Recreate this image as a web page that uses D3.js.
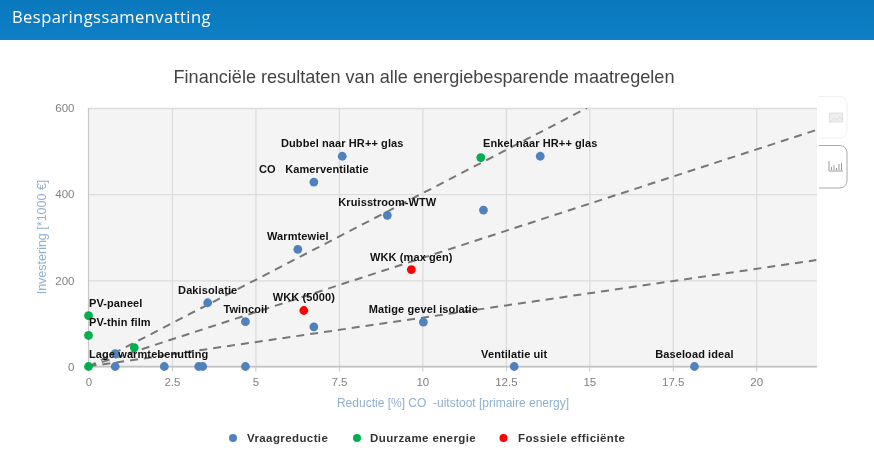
<!DOCTYPE html>
<html><head><meta charset="utf-8">
<script src="https://cdn.jsdelivr.net/npm/d3@7/dist/d3.min.js"></script>
<style>
html,body{margin:0;padding:0;background:#fff;width:874px;height:468px;overflow:hidden}
svg{display:block;filter:blur(.3px)}
text{white-space:pre}
</style></head><body>
<svg id="c" width="874" height="468"></svg>
<script>
const headerTitle = "Besparingssamenvatting";
const chartTitle = "Financiële resultaten van alle energiebesparende maatregelen";
const xAxisTitle = "Reductie [%] CO  -uitstoot [primaire energy]";
const yAxisTitle = "Investering [*1000 €]";
const xTicks = [0, 2.5, 5, 7.5, 10, 12.5, 15, 17.5, 20];
const yTicks = [0, 200, 400, 600];

const seriesNames = ["Vraagreductie", "Duurzame energie", "Fossiele efficiënte"];
const seriesColors = ["#4f81bd", "#00b050", "#ff0000"];

const demandX = [7.6, 6.75, 13.53, 8.95, 11.83, 6.27, 3.57, 4.7, 6.75, 10.03, 0.8, 0.8, 2.27, 3.3, 3.42, 4.7, 12.75, 18.15];
const demandY = [488, 428, 488, 351, 363, 272, 148, 104, 92, 103, 30, 0, 0, 0, 0, 0, 0, 0];
const demandLabels = ["Dubbel naar HR++ glas", "CO   Kamerventilatie", "Enkel naar HR++ glas", "Kruisstroom-WTW", "", "Warmtewiel", "Dakisolatie", "Twincoil", "", "Matige gevel isolatie", "", "", "", "", "", "", "Ventilatie uit", "Baseload ideal"];

const renewX = [0, 0, 0, 1.37, 11.75];
const renewY = [118, 72, 0, 44, 485];
const renewLabels = ["PV-paneel", "PV-thin film", "Lage warmtebenutting", "", ""];

const fossilX = [6.45, 9.67];
const fossilY = [130, 225];
const fossilLabels = ["WKK (5000)", "WKK (max gen)"];

const trendEndX = [14.93, 21.8, 21.8];
const trendEndY = [600, 549, 247];

const plot = {l: 88.5, r: 817, t: 108, b: 366.5};
const x = d3.scaleLinear().domain([0, 21.82]).range([plot.l, plot.r]);
const y = d3.scaleLinear().domain([0, 600]).range([plot.b, plot.t]);
const svg = d3.select("#c");
const sans = "'Liberation Sans',Arial,sans-serif";

const defs = svg.append("defs");
const grad = defs.append("linearGradient").attr("id","hdr").attr("x1",0).attr("x2",0).attr("y1",0).attr("y2",1);
grad.append("stop").attr("offset",0).attr("stop-color","#0a78bd");
grad.append("stop").attr("offset",1).attr("stop-color","#0e80c6");
defs.append("clipPath").attr("id","pc").append("rect")
  .attr("x",plot.l).attr("y",plot.t).attr("width",plot.r-plot.l).attr("height",plot.b-plot.t);

// header band
svg.append("rect").attr("width",874).attr("height",40).attr("fill","url(#hdr)");
svg.append("text").text(headerTitle).attr("x",12).attr("y",23)
  .attr("fill","#fff").attr("font-family","'Open Sans',sans-serif").attr("font-size",16.5).attr("letter-spacing",.45);

// title
svg.append("text").text(chartTitle).attr("x",424).attr("y",83).attr("text-anchor","middle")
  .attr("fill","#444").attr("font-family",sans).attr("font-size",18.1);

// plot background
svg.append("rect").attr("x",plot.l).attr("y",plot.t).attr("width",plot.r-plot.l).attr("height",plot.b-plot.t).attr("fill","#f4f4f4");

// grid
const gridCol = "#dcdcdc";
svg.append("g").attr("transform",`translate(0,${plot.b})`)
  .call(d3.axisBottom(x).tickValues(xTicks.slice(1)).tickSize(-(plot.b-plot.t)).tickFormat(""))
  .call(g=>g.select(".domain").remove())
  .call(g=>g.selectAll("line").attr("stroke",gridCol).attr("stroke-width",1.3));
svg.append("g").attr("transform",`translate(${plot.l},0)`)
  .call(d3.axisLeft(y).tickValues(yTicks).tickSize(-(plot.r-plot.l)).tickFormat(""))
  .call(g=>g.select(".domain").remove())
  .call(g=>g.selectAll("line").attr("stroke",gridCol).attr("stroke-width",1.3));

// axes
svg.append("g").attr("transform",`translate(0,${plot.b})`)
  .call(d3.axisBottom(x).tickValues(xTicks).tickSize(5).tickPadding(6).tickFormat(d=>String(d)))
  .call(g=>g.select(".domain").attr("stroke","#c2c2c2").attr("stroke-width",1.5).attr("d",`M${plot.l},0H${plot.r}`))
  .call(g=>g.selectAll("line").attr("stroke","#c8c8c8"))
  .call(g=>g.selectAll("text").attr("fill","#808080").attr("font-family",sans).attr("font-size",11.5));
svg.append("g").attr("transform",`translate(${plot.l},0)`)
  .call(d3.axisLeft(y).tickValues(yTicks).tickSize(0).tickPadding(14))
  .call(g=>g.select(".domain").attr("stroke","#c8c8c8").attr("stroke-width",1.2).attr("d",`M0,${plot.t}V${plot.b}`))
  .call(g=>g.selectAll("text").attr("fill","#808080").attr("font-family",sans).attr("font-size",11.5));

// axis titles
svg.append("text").text(xAxisTitle).attr("x",453).attr("y",407).attr("text-anchor","middle")
  .attr("fill","#8fb0d0").attr("font-family",sans).attr("font-size",12);
svg.append("text").text(yAxisTitle).attr("transform","translate(46,237) rotate(-90)").attr("text-anchor","middle")
  .attr("fill","#8fb0d0").attr("font-family",sans).attr("font-size",12.5);

// trend lines
const line = d3.line().x(d=>x(d[0])).y(d=>y(d[1]));
svg.append("g").attr("clip-path","url(#pc)").selectAll("path")
  .data(trendEndX.map((e,i)=>[[0,0],[e,trendEndY[i]]])).join("path")
  .attr("d",line).attr("fill","none").attr("stroke","#777").attr("stroke-width",2).attr("stroke-dasharray","8,6");

// points
const all = [
  {xs:demandX, ys:demandY, ls:demandLabels, c:seriesColors[0]},
  {xs:renewX, ys:renewY, ls:renewLabels, c:seriesColors[1]},
  {xs:fossilX, ys:fossilY, ls:fossilLabels, c:seriesColors[2]}
];
all.forEach(s=>{
  svg.append("g").selectAll("circle").data(s.xs.map((v,i)=>[v,s.ys[i]])).join("circle")
    .attr("cx",d=>x(d[0])).attr("cy",d=>y(d[1])).attr("r",4.4).attr("fill",s.c);
});
// data labels: centred above the point, pushed inside the plot on the left
all.forEach(s=>{
  s.ls.forEach((t,i)=>{
    if(!t) return;
    const el = svg.append("text").text(t).attr("font-family",sans).attr("font-weight","bold")
      .attr("font-size",11).attr("fill","#111").attr("letter-spacing",.1).attr("y",y(s.ys[i])-9);
    const w = el.node().getComputedTextLength();
    el.attr("x",Math.max(plot.l+.5,x(s.xs[i])-w/2));
  });
});

// legend
const legX = [233,357,503.5], legT = [247,370,518];
seriesNames.forEach((n,i)=>{
  svg.append("circle").attr("cx",legX[i]).attr("cy",438).attr("r",4).attr("fill",seriesColors[i]);
  svg.append("text").text(n).attr("x",legT[i]).attr("y",442).attr("font-family",sans).attr("font-weight","bold")
    .attr("font-size",11.5).attr("letter-spacing",.4).attr("fill","#333");
});

// side tabs
svg.append("path").attr("d","M819,96.5H840a7,7 0 0 1 7,7V131a7,7 0 0 1 -7,7H819").attr("fill","#fff").attr("stroke","#f0f0f0");
svg.append("path").attr("d","M819,145.5H840a7,7 0 0 1 7,7V181a7,7 0 0 1 -7,7H819").attr("fill","#fff").attr("stroke","#aaa");
svg.append("path").attr("d","M829.5,113h13v9h-13z M830,122l4,-4l3,2l3,-3l2,3").attr("fill","#eee").attr("stroke","#e0e0e0");
svg.append("path").attr("d","M829,161V171H843 M831.5,170V167 M834,170V165 M836.5,170V168 M839,170V164 M841.5,170V163").attr("fill","none").attr("stroke","#999");
</script>
</body></html>
